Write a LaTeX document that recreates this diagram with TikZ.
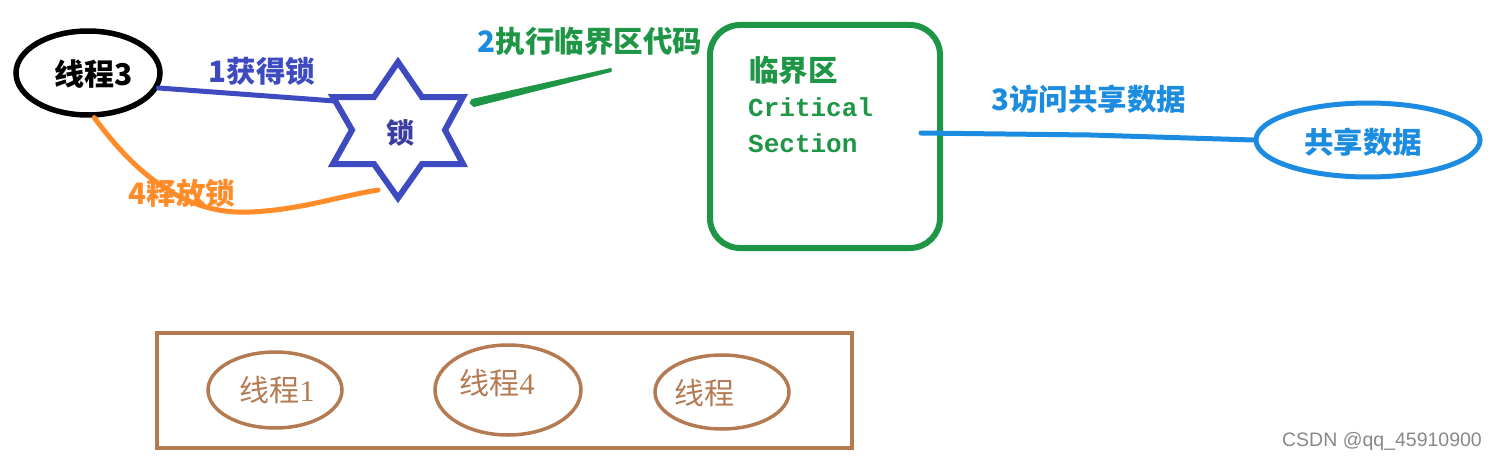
\documentclass[tikz,border=0pt]{standalone}
\usepackage{fontspec}
\setmainfont{Liberation Sans}
\newfontfamily\cjk{Noto Sans CJK SC}
\newfontfamily\monof{Liberation Mono}
\newfontfamily\serifd{Liberation Serif}
\usetikzlibrary{shapes.geometric}
\definecolor{lockblue}{RGB}{62,74,192}
\definecolor{lockdark}{RGB}{58,62,160}
\definecolor{relorange}{RGB}{255,140,40}
\definecolor{csgreen}{RGB}{30,150,70}
\definecolor{skyblue}{RGB}{28,140,224}
\definecolor{brownc}{RGB}{180,122,82}
\definecolor{wmgray}{RGB}{136,136,136}
\tikzset{
  lbl/.style={inner sep=0pt, font=\cjk\bfseries\fontsize{29.5}{34}\selectfont},
  ell/.style={ellipse, inner sep=0pt},
  thr/.style={ell, draw=brownc, line width=3.5pt},
  thrtext/.style={inner sep=0pt, text=brownc, font=\cjk\fontsize{30}{34}\selectfont},
  conn/.style={line width=5pt, line cap=round}
}
\begin{document}
\begin{tikzpicture}[x=1pt,y=-1pt]
\useasboundingbox (0,0) rectangle (1497,460);
% thread 3
\node[ell, draw=black, line width=5.5pt, minimum width=144pt, minimum height=84pt] (t3) at (88,73) {};
\node[inner sep=0pt, font=\cjk\bfseries\fontsize{30}{34}\selectfont] (t3l) at (94,74) {线程3};
% lock star
\coordinate (lock) at (398,130);
\draw[draw=lockblue, line width=6pt, line join=miter]
  ([shift={(0,-68)}]lock) -- ([shift={(24,-33)}]lock) -- ([shift={(65,-33)}]lock)
  -- ([shift={(47,0)}]lock) -- ([shift={(65,34)}]lock) -- ([shift={(24,34)}]lock)
  -- ([shift={(0,68)}]lock) -- ([shift={(-24,34)}]lock) -- ([shift={(-65,34)}]lock)
  -- ([shift={(-46,0)}]lock) -- ([shift={(-65,-33)}]lock) -- ([shift={(-24,-33)}]lock) -- cycle;
\node[inner sep=0pt, text=lockdark, font=\cjk\bfseries\fontsize{28}{32}\selectfont] (lockl) at (400,133) {锁};
% 1 acquire
\coordinate (lockw) at ([shift={(-63,-29)}]lock);
\draw[conn, draw=lockblue] (t3.-12) -- (lockw);
\node[lbl, text=lockblue] (l1) at (262,71) {1获得锁};
% 4 release
\coordinate (relend) at (378,190);
\draw[conn, draw=relorange] (t3.-82) .. controls (140,180) and (190,215) .. (250,212)
      .. controls (300,210) and (340,196) .. (relend);
\node[lbl, text=relorange] (l4) at (182,193) {4释放锁};
% 2 execute
\coordinate (g1) at (473,103);
\coordinate (g2) at (611,70);
\fill[csgreen, draw=csgreen, line width=1pt, line join=round]
  ([shift={(-1,-3.5)}]g1) -- ([shift={(0,-1.5)}]g2) -- ([shift={(0,1.5)}]g2)
  -- ([shift={(1,3.5)}]g1) -- ([shift={(-3,0)}]g1) -- cycle;
\node[lbl, text=csgreen] (l2) at (590,41) {\textcolor{skyblue}{2}执行临界区代码};
% critical section
\node[draw=csgreen, line width=6pt, rounded corners=30pt, minimum width=230pt,
      minimum height=223pt, inner sep=0pt] (cs) at (825,136.5) {};
\node[lbl, text=csgreen, anchor=west] (csl1) at (749,70) {临界区};
\node[inner sep=0pt, text=csgreen, anchor=west, font=\monof\bfseries\fontsize{26}{30}\selectfont] (csl2) at (748,107) {Critical};
\node[inner sep=0pt, text=csgreen, anchor=west, font=\monof\bfseries\fontsize{26}{30}\selectfont] (csl3) at (748,143) {Section};
% shared data
\node[ell, draw=skyblue, line width=5pt, minimum width=224pt, minimum height=74pt] (sd) at (1368,140) {};
\node[lbl, text=skyblue] (sdl) at (1363,142) {共享数据};
\coordinate (s3) at (921,133);
\draw[conn, draw=skyblue] (s3) -- (1090,135) -- (sd.west);
\node[lbl, text=skyblue] (l3) at (1089,99) {3访问共享数据};
% waiting threads
\node[draw=brownc, line width=4pt, minimum width=695pt, minimum height=115pt, inner sep=0pt] (pool) at (504.5,390.5) {};
\node[thr, minimum width=134pt, minimum height=76pt] (w1) at (275,390) {};
\node[thrtext] (w1l) at (277,390) {线程{\serifd 1}};
\node[thr, minimum width=146pt, minimum height=90pt] (w4) at (508,390) {};
\node[thrtext] (w4l) at (497,383) {线程{\serifd 4}};
\node[thr, minimum width=134pt, minimum height=74pt] (w2) at (722,392) {};
\node[thrtext] (w2l) at (704,393) {线程};
% watermark
\node[inner sep=0pt, text=wmgray, font=\fontsize{19.5}{22}\selectfont] (wm) at (1382,441) {CSDN @qq\_45910900};
\end{tikzpicture}
\end{document}
